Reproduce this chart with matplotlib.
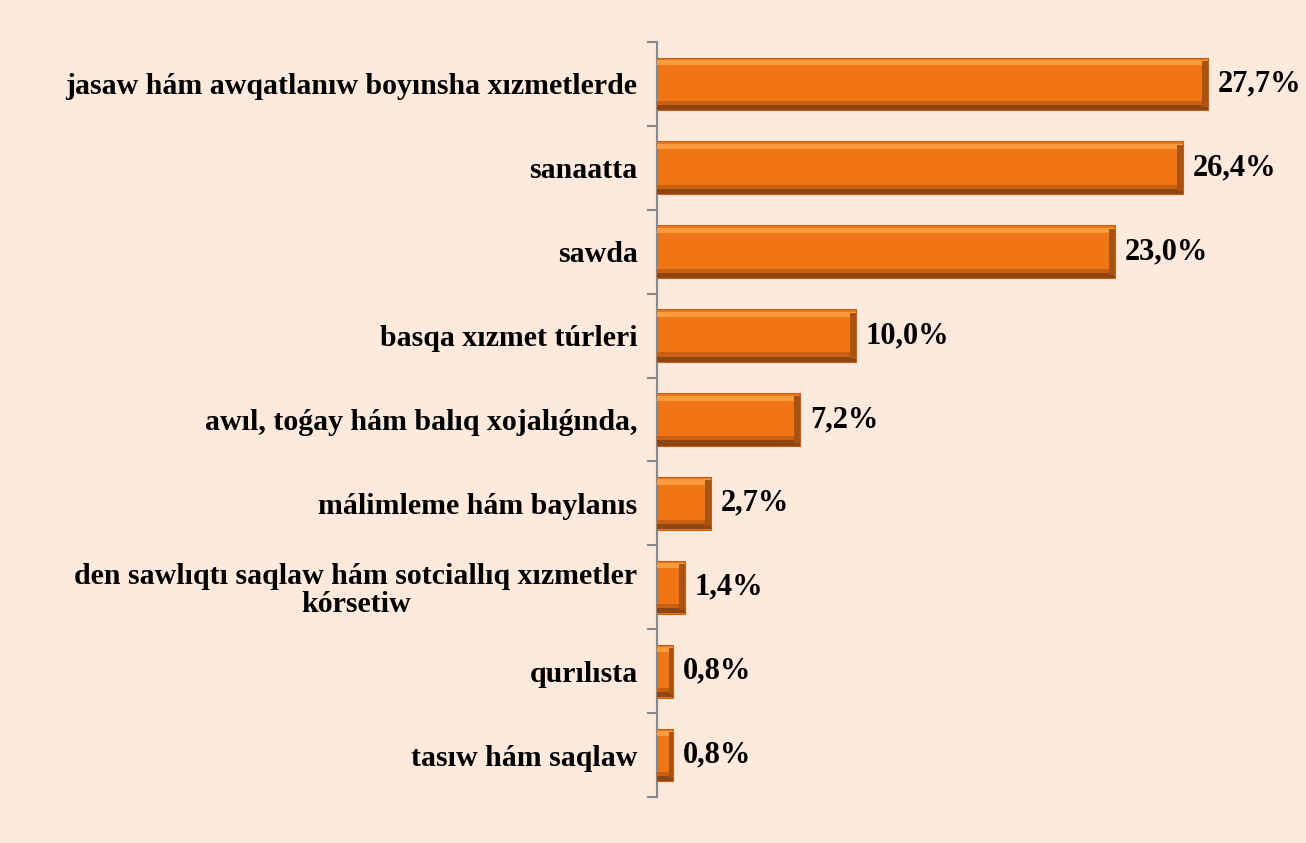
import matplotlib.pyplot as plt
import numpy as np

categories = [
    'jasaw hám awqatlanıw boyınsha xızmetlerde',
    'sanaatta',
    'sawda',
    'basqa xızmet túrleri',
    'awıl, toǵay hám balıq xojalıǵında,',
    'málimleme hám baylanıs',
    'den sawlıqtı saqlaw hám sotciallıq xızmetler\nkórsetiw',
    'qurılısta',
    'tasıw hám saqlaw',
]
values = [27.7, 26.4, 23.0, 10.0, 7.2, 2.7, 1.4, 0.8, 0.8]
value_labels = ['27,7%', '26,4%', '23,0%', '10,0%', '7,2%', '2,7%', '1,4%', '0,8%', '0,8%']

bg = '#FDEADC'
plt.rcParams['font.family'] = ['Liberation Serif', 'DejaVu Serif']

fig = plt.figure(figsize=(13.06, 8.43), dpi=100, facecolor=bg)
ax = fig.add_axes([657 / 1306, 1 - 797 / 843, 1 - 657 / 1306, 755 / 843])
ax.set_facecolor(bg)

y = np.arange(len(categories))
h = 0.63
# main bar body
ax.barh(y, values, height=h, color='#F07514', edgecolor='#C0601A', linewidth=0.8, zorder=2)
# bevel: light top strip, dark bottom strip, dark right edge
ax.barh(y - h / 2 + 0.06, values, height=0.06, color='#F99C3E', linewidth=0, zorder=3)
ax.barh(y + h / 2 - 0.09, values, height=0.05, color='#C8600F', linewidth=0, zorder=3)
ax.barh(y + h / 2 - 0.035, values, height=0.06, color='#8E4512', linewidth=0, zorder=3)
ax.barh(y, [min(0.3, v * 0.25) for v in values], left=[v - min(0.3, v * 0.25) for v in values],
        height=h - 0.08, color='#A85214', linewidth=0, zorder=3)

for yi, v, lab in zip(y, values, value_labels):
    ax.annotate(lab, (v, yi), xytext=(7, 0), textcoords='offset points',
                va='center', ha='left', fontsize=22, fontweight='bold')

ax.set_ylim(len(categories) - 0.5, -0.5)
ax.set_xlim(0, 32.6)
ax.set_yticks(y)
ax.set_yticklabels(categories, fontsize=21.5, fontweight='bold', linespacing=1.05)
for t in ax.get_yticklabels():
    t.set_multialignment('center')
ax.tick_params(axis='y', which='major', length=0, pad=14)
ax.set_yticks(np.arange(-0.5, len(categories), 1), minor=True)
ax.tick_params(axis='y', which='minor', length=7, color='#888888', width=1.5, direction='out')
ax.set_xticks([])
for s in ['top', 'right', 'bottom']:
    ax.spines[s].set_visible(False)
ax.spines['left'].set_color('#888888')
ax.spines['left'].set_linewidth(1.5)

fig.savefig('out.png', dpi=100, facecolor=bg)
